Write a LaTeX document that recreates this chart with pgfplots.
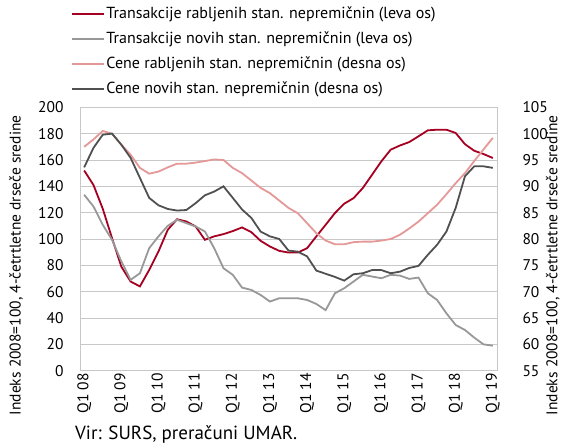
\documentclass[border=0pt]{standalone}
\usepackage{fontspec}
\setmainfont{PT Sans}
\usepackage{pgfplots}
\pgfplotsset{compat=1.18}
\definecolor{cRed}{RGB}{165,0,33}
\definecolor{cGray}{RGB}{152,152,152}
\definecolor{cPink}{RGB}{228,152,152}
\definecolor{cDark}{RGB}{80,80,80}
\definecolor{cGrid}{RGB}{200,200,200}
\begin{document}
\begin{tikzpicture}[x=1pt,y=1pt]
\useasboundingbox (0,0) rectangle (564,446);
\begin{axis}[
  at={(80pt,75.3pt)}, anchor=south west, scale only axis,
  width=417pt, height=263.4pt,
  xmin=-0.45, xmax=44.45, ymin=0, ymax=200,
  ytick={0,20,...,200},
  xtick={0,4,...,44},
  xticklabels={Q1 08,Q1 09,Q1 10,Q1 11,Q1 12,Q1 13,Q1 14,Q1 15,Q1 16,Q1 17,Q1 18,Q1 19},
  x tick label style={rotate=90, anchor=east, inner sep=2.5pt},
  y tick label style={xshift=-13pt},
  major tick length=0pt,
  ymajorgrids, grid style={cGrid, line width=0.9pt},
  axis line style={cGrid, line width=0.9pt},
  tick label style={font=\fontsize{15.5}{16}\selectfont},
  /pgf/number format/assume math mode=true,
  every axis y label/.style={at={(axis description cs:-0.153,0.40)}, rotate=90, anchor=center, font=\fontsize{15.5}{16}\selectfont},
  ylabel={Indeks 2008=100, 4-četrtletne drseče sredine},
  legend cell align=left,
  legend style={draw=none, fill=none, at={(axis description cs:-0.0216,1.385)}, anchor=north west,
    inner sep=0pt, row sep=8pt, font=\fontsize{16}{17}\selectfont,
    nodes={inner sep=1pt, text height=11.5pt, text depth=3.5pt}},
  legend image code/.code={\draw[#1] (0pt,0.5pt) -- (32pt,0.5pt);},
  clip=false,
]
\addlegendimage{cRed, line width=2.3pt}
\addlegendentry{Transakcije rabljenih stan. nepremičnin (leva os)}
\addlegendimage{cGray, line width=2.3pt}
\addlegendentry{Transakcije novih stan. nepremičnin (leva os)}
\addlegendimage{cPink, line width=2.3pt}
\addlegendentry{Cene rabljenih stan. nepremičnin (desna os)}
\addlegendimage{cDark, line width=2.3pt}
\addlegendentry{Cene novih stan. nepremičnin (desna os)}
\addplot[cRed, line width=1.8pt, forget plot] coordinates {
(0,152) (1,141) (2,123) (3,100.6) (4,79) (5,67.7) (6,64) (7,76.5) (8,90.5) (9,107)
(10,115) (11,113.3) (12,109.5) (13,99.4) (14,102) (15,103.7) (16,106) (17,108.8) (18,105.2) (19,98.6)
(20,94.3) (21,91) (22,89.7) (23,89.7) (24,93) (25,102) (26,110.8) (27,119.7) (28,126.8) (29,131)
(30,138.7) (31,148.8) (32,159) (33,167.8) (34,171) (35,173.6) (36,178) (37,182.5) (38,183) (39,183)
(40,180.5) (41,172) (42,167) (43,164.5) (44,161.5)};
\addplot[cGray, line width=1.8pt, forget plot] coordinates {
(0,133.6) (1,124.7) (2,110.8) (3,99.4) (4,83) (5,69) (6,74) (7,93) (8,102) (9,110)
(10,114.6) (11,112) (12,109.5) (13,105.7) (14,93) (15,77.8) (16,72.8) (17,63.1) (18,61.3) (19,57.5)
(20,52.5) (21,55) (22,55) (23,55) (24,53.7) (25,50.7) (26,46) (27,58.8) (28,62.6) (29,67.7)
(30,72.8) (31,71.5) (32,70.2) (33,72.8) (34,72.2) (35,69.7) (36,70.7) (37,58.8) (38,53.7) (39,43.6)
(40,34.7) (41,30.9) (42,25.1) (43,20) (44,19)};
\end{axis}
\begin{axis}[
  at={(80pt,75.3pt)}, anchor=south west, scale only axis,
  width=417pt, height=263.4pt,
  xmin=-0.45, xmax=44.45, ymin=55, ymax=105,
  ytick={55,60,...,105},
  axis x line=none, axis y line*=right,
  major tick length=0pt,
  axis line style={cGrid, line width=0.9pt},
  y tick label style={anchor=west, xshift=22pt},
  tick label style={font=\fontsize{15.5}{16}\selectfont},
  /pgf/number format/assume math mode=true,
  every axis y label/.style={at={(axis description cs:1.134,0.40)}, rotate=90, anchor=center, font=\fontsize{15.5}{16}\selectfont},
  ylabel={Indeks 2008=100, 4-četrtletne drseče sredine},
]
\addplot[cPink, line width=1.8pt] coordinates {
(0,97.5) (1,98.9) (2,100.5) (3,100) (4,97.9) (5,96) (6,93.5) (7,92.4) (8,92.8) (9,93.6)
(10,94.3) (11,94.3) (12,94.5) (13,94.8) (14,95.1) (15,95) (16,93.5) (17,92.5) (18,91.1) (19,89.7)
(20,88.7) (21,87.3) (22,85.9) (23,84.9) (24,83) (25,81.1) (26,79.7) (27,79) (28,79) (29,79.4)
(30,79.5) (31,79.5) (32,79.7) (33,80) (34,80.8) (35,82) (36,83.3) (37,84.9) (38,86.5) (39,88.5)
(40,90.6) (41,92.5) (42,94.8) (43,97) (44,99.2)};
\addplot[cDark, line width=1.8pt] coordinates {
(0,93.6) (1,97.3) (2,99.8) (3,100) (4,97.9) (5,95.4) (6,91.6) (7,87.8) (8,86.4) (9,85.7)
(10,85.4) (11,85.5) (12,86.8) (13,88.3) (14,89) (15,90) (16,87.8) (17,85.6) (18,84) (19,81.4)
(20,80.5) (21,80) (22,77.8) (23,77.6) (24,76.7) (25,74) (26,73.4) (27,72.8) (28,72.1) (29,73.3)
(30,73.5) (31,74.1) (32,74.1) (33,73.5) (34,73.8) (35,74.5) (36,74.9) (37,77) (38,78.9) (39,81.4)
(40,85.9) (41,91.9) (42,93.8) (43,93.8) (44,93.5)};
\end{axis}
\node[anchor=base west, font=\fontsize{19}{20}\selectfont, inner sep=0pt] at (75,6) {Vir: SURS, preračuni UMAR.};
\end{tikzpicture}
\end{document}
